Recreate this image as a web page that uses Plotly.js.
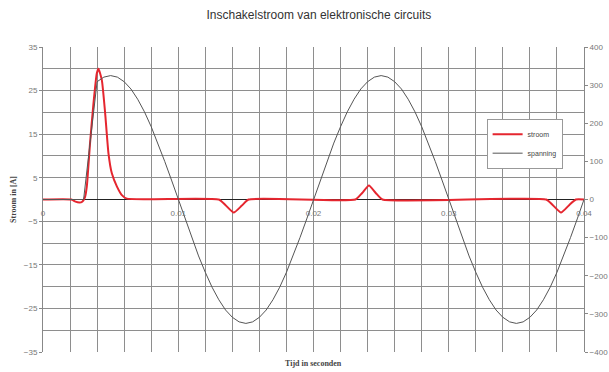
<!DOCTYPE html>
<html>
<head>
<meta charset="utf-8">
<script src="https://cdn.plot.ly/plotly-3.0.1.min.js"></script>
<style>html,body{margin:0;padding:0;background:#fff;}#chart{width:609px;height:372px;}</style>
</head>
<body>
<div id="chart"></div>
<script>
// Stroom (current, A)
const tStroom = [0, 0.0021, 0.0024, 0.0027, 0.0029, 0.0031, 0.00324, 0.00348, 0.00373, 0.00398, 0.0041,
  0.00435, 0.00459, 0.00484, 0.00509, 0.00546, 0.00583, 0.0062,
  0.0130, 0.0135, 0.0141, 0.0147, 0.0152,
  0.0231, 0.0236, 0.0241, 0.0246, 0.0251,
  0.0372, 0.0377, 0.0383, 0.0389, 0.0394, 0.040];
const stroom = [0, 0, -0.5, -0.7, -0.5, 0.5, 3, 13, 22, 29, 30,
  27.4, 20, 10.6, 6, 3, 1, 0.2,
  0, -1.3, -3.0, -1.4, 0,
  0, 1.5, 3.2, 1.5, 0,
  0, -1.3, -3.0, -1.3, 0, 0];

// Spanning (voltage, V)
const tSpanning = [0, 0.003, 0.004, 0.0045, 0.005, 0.0055, 0.006, 0.0065, 0.007, 0.0075, 0.008, 0.0085, 0.009, 0.0095,
  0.010, 0.0105, 0.011, 0.0115, 0.012, 0.0125, 0.013, 0.0135, 0.014, 0.0145, 0.015, 0.0155, 0.016, 0.0165, 0.017, 0.0175, 0.018, 0.0185, 0.019, 0.0195,
  0.020, 0.0205, 0.021, 0.0215, 0.022, 0.0225, 0.023, 0.0235, 0.024, 0.0245, 0.025, 0.0255, 0.026, 0.0265, 0.027, 0.0275, 0.028, 0.0285, 0.029, 0.0295,
  0.030, 0.0305, 0.031, 0.0315, 0.032, 0.0325, 0.033, 0.0335, 0.034, 0.0345, 0.035, 0.0355, 0.036, 0.0365, 0.037, 0.0375, 0.038, 0.0385, 0.039, 0.0395, 0.040];
const spanning = [0, 0, 309, 321, 325, 321, 309, 290, 263, 230, 191, 148, 100, 51,
  0, -51, -100, -148, -191, -230, -263, -290, -309, -321, -325, -321, -309, -290, -263, -230, -191, -148, -100, -51,
  0, 51, 100, 148, 191, 230, 263, 290, 309, 321, 325, 321, 309, 290, 263, 230, 191, 148, 100, 51,
  0, -51, -100, -148, -191, -230, -263, -290, -309, -321, -325, -321, -309, -290, -263, -230, -191, -148, -100, -51, 0];

const xTickVals = [0, 0.01, 0.02, 0.03, 0.04];
const xTickText = ['0', '0.01', '0.02', '0.03', '0.04'];
const yLeftTicks = [-35, -25, -15, -5, 5, 15, 25, 35];
const yRightTicks = [-400, -300, -200, -100, 0, 100, 200, 300, 400];

const tickFont = {family: 'Liberation Sans, Arial, sans-serif', size: 8, color: '#777'};
const gridCol = '#8e8e8e';

const traces = [
  {x: tStroom, y: stroom, name: 'stroom', type: 'scatter', mode: 'lines',
   line: {color: '#e5262f', width: 2, shape: 'spline', smoothing: 0.5}, yaxis: 'y'},
  {x: tSpanning, y: spanning, name: 'spanning', type: 'scatter', mode: 'lines',
   line: {color: '#555', width: 1}, yaxis: 'y2'}
];

const layout = {
  width: 609, height: 372,
  margin: {l: 43, r: 25, t: 47, b: 20},
  paper_bgcolor: '#fff', plot_bgcolor: '#fff',
  showlegend: true,
  title: {text: 'Inschakelstroom van elektronische circuits', x: 0.51, xref: 'paper',
          y: 0.96, yanchor: 'middle',
          font: {family: 'Liberation Sans, Arial, sans-serif', size: 12, color: '#333'}},
  xaxis: {range: [0, 0.04], tickmode: 'array', tickvals: xTickVals, ticktext: xTickText,
          anchor: 'free', position: 0.5, ticks: 'outside', ticklen: 6, tickcolor: 'rgba(0,0,0,0)',
          showline: false,
          showgrid: true, gridcolor: gridCol, gridwidth: 1, zeroline: false,
          minor: {dtick: 0.002, tick0: 0, showgrid: true, gridcolor: gridCol, gridwidth: 1},
          tickfont: tickFont, fixedrange: true},
  yaxis: {range: [-35, 35], tickmode: 'array', tickvals: yLeftTicks,
          ticks: 'outside', ticklen: 3, tickcolor: '#888',
          showline: true, linecolor: '#888', linewidth: 1,
          showgrid: true, gridcolor: gridCol, gridwidth: 1,
          minor: {dtick: 5, tick0: 0, showgrid: true, gridcolor: gridCol, gridwidth: 1},
          zeroline: true, zerolinecolor: '#222', zerolinewidth: 1,
          tickfont: tickFont,
          title: {text: 'Stroom in [A]', standoff: 6,
                  font: {family: 'Liberation Serif, Times New Roman, serif', size: 8, color: '#444', weight: 'bold'}}},
  yaxis2: {range: [-400, 400], tickmode: 'array', tickvals: yRightTicks,
           overlaying: 'y', side: 'right', anchor: 'x',
           ticks: 'outside', ticklen: 3, tickcolor: '#888',
           showline: true, linecolor: '#888', linewidth: 1,
           showgrid: false, zeroline: false, tickfont: tickFont},
  legend: {x: 0.82, y: 0.765, xanchor: 'left', yanchor: 'top',
           font: {family: 'Liberation Sans, Arial, sans-serif', size: 7, color: '#444'},
           bgcolor: '#fff', bordercolor: '#999', borderwidth: 1, itemwidth: 30, tracegroupgap: 0},
  annotations: [{text: 'Tijd in seconden', xref: 'paper', yref: 'paper', x: 0.5, y: -0.039,
                 xanchor: 'center', yanchor: 'middle', showarrow: false,
                 font: {family: 'Liberation Serif, Times New Roman, serif', size: 8, color: '#444', weight: 'bold'}}]
};

Plotly.newPlot('chart', traces, layout, {displayModeBar: false, staticPlot: true});
</script>
</body>
</html>
